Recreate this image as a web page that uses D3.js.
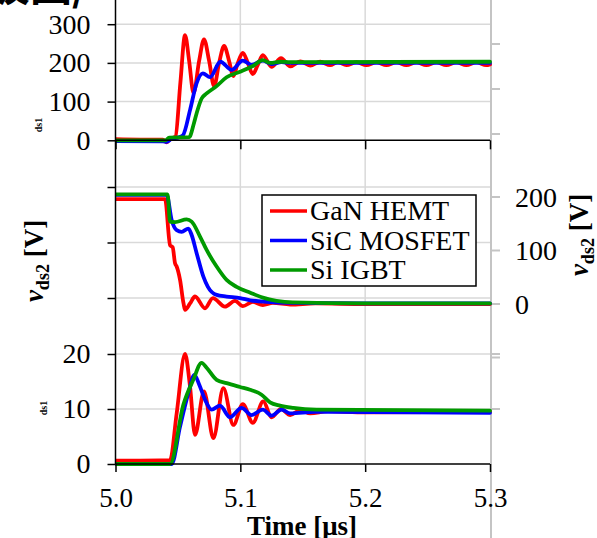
<!DOCTYPE html>
<html><head><meta charset="utf-8">
<script src="https://cdn.jsdelivr.net/npm/d3@7"></script>
<style>
html,body{margin:0;padding:0;background:#fff;}
svg{display:block;font-family:"Liberation Serif","Times New Roman",serif;}
</style></head>
<body>
<svg id="c" width="597" height="538"></svg>
<script>
// ---------- data (time in µs) ----------
const seriesNames = ["GaN HEMT", "SiC MOSFET", "Si IGBT"];
const seriesColors = ["#ff0000", "#0000ff", "#009a00"];
const xTicks = [5.0, 5.1, 5.2, 5.3];
const xTickLabels = ["5.0", "5.1", "5.2", "5.3"];
const topTicks = [0, 100, 200, 300];
const midTicks = [0, 100, 200];
const botTicks = [0, 10, 20];

// top panel
const topGaN = [[5.000,3],[5.020,2],[5.038,2],[5.041,-5],[5.044,4],[5.048,9],[5.052,150],[5.0557,272],[5.059,205],[5.0625,122],[5.067,205],[5.0709,261],[5.075,205],[5.079,140],[5.083,200],[5.087,244],[5.091,205],[5.0944,166],[5.098,200],[5.102,226],[5.106,200],[5.110,171],[5.114,195],[5.118,220],[5.125,190],[5.1326,212],[5.140,191],[5.148,204],[5.156,193],[5.164,203],[5.172,194],[5.178,202],[5.185,194],[5.193,202],[5.201,194],[5.209,202],[5.217,194],[5.225,202],[5.233,194],[5.241,202],[5.249,194],[5.257,202],[5.265,194],[5.273,202],[5.281,194],[5.289,202],[5.297,194],[5.300,196]];
const topSiC = [[5.000,-2],[5.038,-3],[5.041,-4],[5.045,4],[5.050,7],[5.054,13],[5.0597,78],[5.065,148],[5.070,173],[5.0757,163],[5.084,203],[5.093,182],[5.102,206],[5.109,195],[5.118,206],[5.125,197],[5.133,202],[5.140,200],[5.300,200]];
const topSi = [[5.000,0],[5.040,0],[5.043,7],[5.059,8],[5.0625,40],[5.065,70],[5.069,108],[5.073,121],[5.081,140],[5.089,163],[5.0998,177],[5.110,192],[5.118,207],[5.124,200],[5.132,203],[5.140,202],[5.300,203]];

// middle panel (v_ds2 [V])
const midGaN = [[5.000,196],[5.0397,196],[5.0437,110],[5.0458,106],[5.0477,76],[5.049,70],[5.0517,45],[5.0545,1],[5.0557,-11],[5.0597,1],[5.0637,14],[5.0717,-8],[5.078,11],[5.0877,-5],[5.0957,6],[5.102,-4],[5.110,4],[5.118,-2],[5.126,2],[5.140,-1],[5.160,1],[5.200,0],[5.300,0]];
const midSiC = [[5.000,204],[5.041,204],[5.045,157],[5.049,138],[5.053,135],[5.0584,141],[5.061,129],[5.065,95],[5.0704,51],[5.074,32],[5.081,17],[5.089,14],[5.0998,11],[5.108,7],[5.121,4],[5.140,2],[5.200,1],[5.300,1]];
const midSi = [[5.000,205],[5.0417,205],[5.0437,154],[5.0477,153],[5.057,158],[5.061,154],[5.0677,126],[5.073,101],[5.081,70],[5.089,45],[5.097,32],[5.108,21],[5.118,12],[5.129,6],[5.142,3],[5.200,1],[5.300,1]];

// bottom panel
const botGaN = [[5.000,0.6],[5.0437,0.7],[5.049,9.2],[5.0557,20],[5.0597,14.1],[5.0637,5.3],[5.0709,13.2],[5.0784,4.7],[5.0864,13.8],[5.0944,7.1],[5.102,10.9],[5.110,7.5],[5.1184,11.4],[5.125,8.5],[5.1326,10.0],[5.140,8.9],[5.148,9.8],[5.156,9.2],[5.170,9.6],[5.200,9.4],[5.300,9.5]];
const botSiC = [[5.000,0],[5.045,0],[5.0517,6.8],[5.0584,12.9],[5.0632,16.2],[5.0671,14.4],[5.0717,11.7],[5.077,9.9],[5.0837,10.6],[5.0917,8.5],[5.101,10.2],[5.109,8.9],[5.118,9.9],[5.125,8.8],[5.133,9.9],[5.140,9.2],[5.160,9.5],[5.300,9.3]];
const botSi = [[5.000,0],[5.0437,0],[5.0544,10.8],[5.0623,15.3],[5.069,18.4],[5.073,17.5],[5.081,15.3],[5.089,14.7],[5.0998,14.0],[5.1078,13.5],[5.117,12.6],[5.1238,11.2],[5.1318,10.6],[5.1425,10.2],[5.161,9.9],[5.300,9.7]];

// ---------- drawing ----------
const svg = d3.select("#c");
const GRID = "#d9d9d9", RGRAY = "#c4c4c4";
const x = d3.scaleLinear().domain([5.0, 5.3]).range([115.5, 490]);
const yTop = d3.scaleLinear().domain([0, 300]).range([140.3, 24.2]);
const yTopR = d3.scaleLinear().domain([0, 2]).range([134, 44]);
const yMid = d3.scaleLinear().domain([0, 200]).range([304, 197]);
const yMidL = d3.scaleLinear().domain([0, 2]).range([298, 187]);
const yBot = d3.scaleLinear().domain([0, 20]).range([464, 354]);

svg.append("rect").attr("width", 597).attr("height", 538).attr("fill", "#fff");

// clipped CJK heading fragment at top-left (only its lower edge shows)
svg.append("text").attr("x", -12).attr("y", 1)
  .attr("font-family", "'Noto Sans CJK JP'").attr("font-weight", "bold")
  .attr("font-size", 42).attr("fill", "#000").text("波図/");

// gridlines
const g = svg.append("g");
[5.1, 5.2].forEach(t => g.append("line").attr("x1", x(t)).attr("x2", x(t)).attr("y1", 0).attr("y2", 464)
  .attr("stroke", GRID).attr("stroke-width", 1.5));
[100, 200, 300].forEach(v => g.append("line").attr("x1", x(5.0)).attr("x2", x(5.3)).attr("y1", yTop(v)).attr("y2", yTop(v))
  .attr("stroke", GRID).attr("stroke-width", 1.5));
[0, 1, 2].forEach(v => g.append("line").attr("x1", x(5.0)).attr("x2", x(5.3)).attr("y1", yMidL(v)).attr("y2", yMidL(v))
  .attr("stroke", GRID).attr("stroke-width", 1.5));
[10, 20].forEach(v => g.append("line").attr("x1", x(5.0)).attr("x2", x(5.3)).attr("y1", yBot(v)).attr("y2", yBot(v))
  .attr("stroke", GRID).attr("stroke-width", 1.5));
// right gray axis line
g.append("line").attr("x1", x(5.3) + 1).attr("x2", x(5.3) + 1).attr("y1", 0).attr("y2", 538)
  .attr("stroke", RGRAY).attr("stroke-width", 2);
// right gray ticks
const rTicks = [yTopR(0), yTopR(1), yTopR(2), yMid(0), yMid(100), yMid(200), yMid(-100), yBot(10), yBot(20)];
rTicks.forEach(yy => g.append("line").attr("x1", x(5.3) + 1).attr("x2", x(5.3) + 10).attr("y1", yy).attr("y2", yy)
  .attr("stroke", RGRAY).attr("stroke-width", 2));

// data lines
const line = (ys) => d3.line().x(d => x(d[0])).y(d => ys(d[1])).curve(d3.curveMonotoneX);
svg.append("clipPath").attr("id", "clp").append("rect")
  .attr("x", x(5.0)).attr("y", 0).attr("width", x(5.3) - x(5.0) + 2).attr("height", 538);
const dg = svg.append("g").attr("clip-path", "url(#clp)");
const panels = [
  [yTop, [topGaN, topSiC, topSi]],
  [yMid, [midGaN, midSiC, midSi]],
  [yBot, [botGaN, botSiC, botSi]]
];
panels.forEach(([ys, sets]) => {
  sets.forEach((s, i) => dg.append("path").datum(s).attr("d", line(ys))
    .attr("fill", "none").attr("stroke", seriesColors[i]).attr("stroke-width", 3.8)
    .attr("stroke-linejoin", "round").attr("stroke-linecap", "round"));
});

// axes
const FONT = 28;
function styleAxis(sel) {
  sel.select(".domain").remove();
  sel.selectAll(".tick line").attr("stroke", "#000").attr("stroke-width", 1.5);
  sel.selectAll(".tick text").attr("fill", "#000").attr("font-size", FONT)
    .attr("font-family", "'Liberation Serif','Times New Roman',serif");
}
svg.append("line").attr("x1", x(5.0)).attr("x2", x(5.0)).attr("y1", 0).attr("y2", 464)
  .attr("stroke", "#000").attr("stroke-width", 1.5);
svg.append("g").attr("transform", `translate(${x(5.0)},0)`)
  .call(d3.axisLeft(yTop).tickValues(topTicks).tickSize(8).tickPadding(17)).call(styleAxis);
svg.append("g").attr("transform", `translate(${x(5.0)},0)`)
  .call(d3.axisLeft(yMidL).tickValues([0, 1, 2]).tickSize(8).tickFormat("")).call(styleAxis);
svg.append("g").attr("transform", `translate(${x(5.0)},0)`)
  .call(d3.axisLeft(yBot).tickValues(botTicks).tickSize(8).tickPadding(17)).call(styleAxis);
// top x-axis
svg.append("line").attr("x1", x(5.0)).attr("x2", x(5.3)).attr("y1", yTop(0)).attr("y2", yTop(0))
  .attr("stroke", "#000").attr("stroke-width", 1.5);
svg.append("g").attr("transform", `translate(0,${yTop(0)})`)
  .call(d3.axisBottom(x).tickValues(xTicks).tickSize(9).tickFormat("")).call(styleAxis);
// bottom x-axis
svg.append("line").attr("x1", x(5.0)).attr("x2", x(5.3)).attr("y1", yBot(0)).attr("y2", yBot(0))
  .attr("stroke", "#000").attr("stroke-width", 1.5);
const xb = svg.append("g").attr("transform", `translate(0,${yBot(0)})`)
  .call(d3.axisBottom(x).tickValues(xTicks).tickSize(8).tickPadding(16).tickFormat((d, i) => xTickLabels[i]))
  .call(styleAxis);
xb.selectAll(".tick text").attr("font-size", 27);
// right labels (middle panel)
midTicks.forEach(v => svg.append("text").attr("x", 515).attr("y", yMid(v)).attr("dy", "0.34em")
  .attr("font-size", FONT).attr("fill", "#000").text(v));

// axis titles
svg.append("text").attr("x", 302).attr("y", 535).attr("text-anchor", "middle")
  .attr("font-size", 27).attr("font-weight", "bold").text("Time [μs]");
function vlabel(tx, ty) {
  const t = svg.append("text").attr("transform", `translate(${tx},${ty}) rotate(-90)`)
    .attr("text-anchor", "middle").attr("font-size", 27).attr("font-weight", "bold");
  t.append("tspan").attr("font-style", "italic").text("v");
  t.append("tspan").attr("font-size", 18).attr("dy", 6).text("ds2");
  t.append("tspan").attr("dy", -6).text(" [V]");
}
vlabel(43, 261);
vlabel(588, 235);

// small remnants of hidden labels at the left edge
[[42, 125, "ds1"], [47, 408, "ds1"]].forEach(([tx, ty, s]) =>
  svg.append("text").attr("transform", `translate(${tx},${ty}) rotate(-90)`)
    .attr("text-anchor", "middle").attr("font-size", 10).attr("font-weight", "bold").text(s));

// legend
const lg = svg.append("g");
lg.append("rect").attr("x", 262).attr("y", 195).attr("width", 214).attr("height", 91)
  .attr("fill", "#fff").attr("stroke", "#000").attr("stroke-width", 1.5);
seriesNames.forEach((n, i) => {
  const yy = 211 + i * 29.5;
  lg.append("line").attr("x1", 270).attr("x2", 307).attr("y1", yy).attr("y2", yy)
    .attr("stroke", seriesColors[i]).attr("stroke-width", 3.6);
  lg.append("text").attr("x", 310).attr("y", yy + 9).attr("font-size", FONT).attr("fill", "#000").text(n);
});
</script>
</body></html>
